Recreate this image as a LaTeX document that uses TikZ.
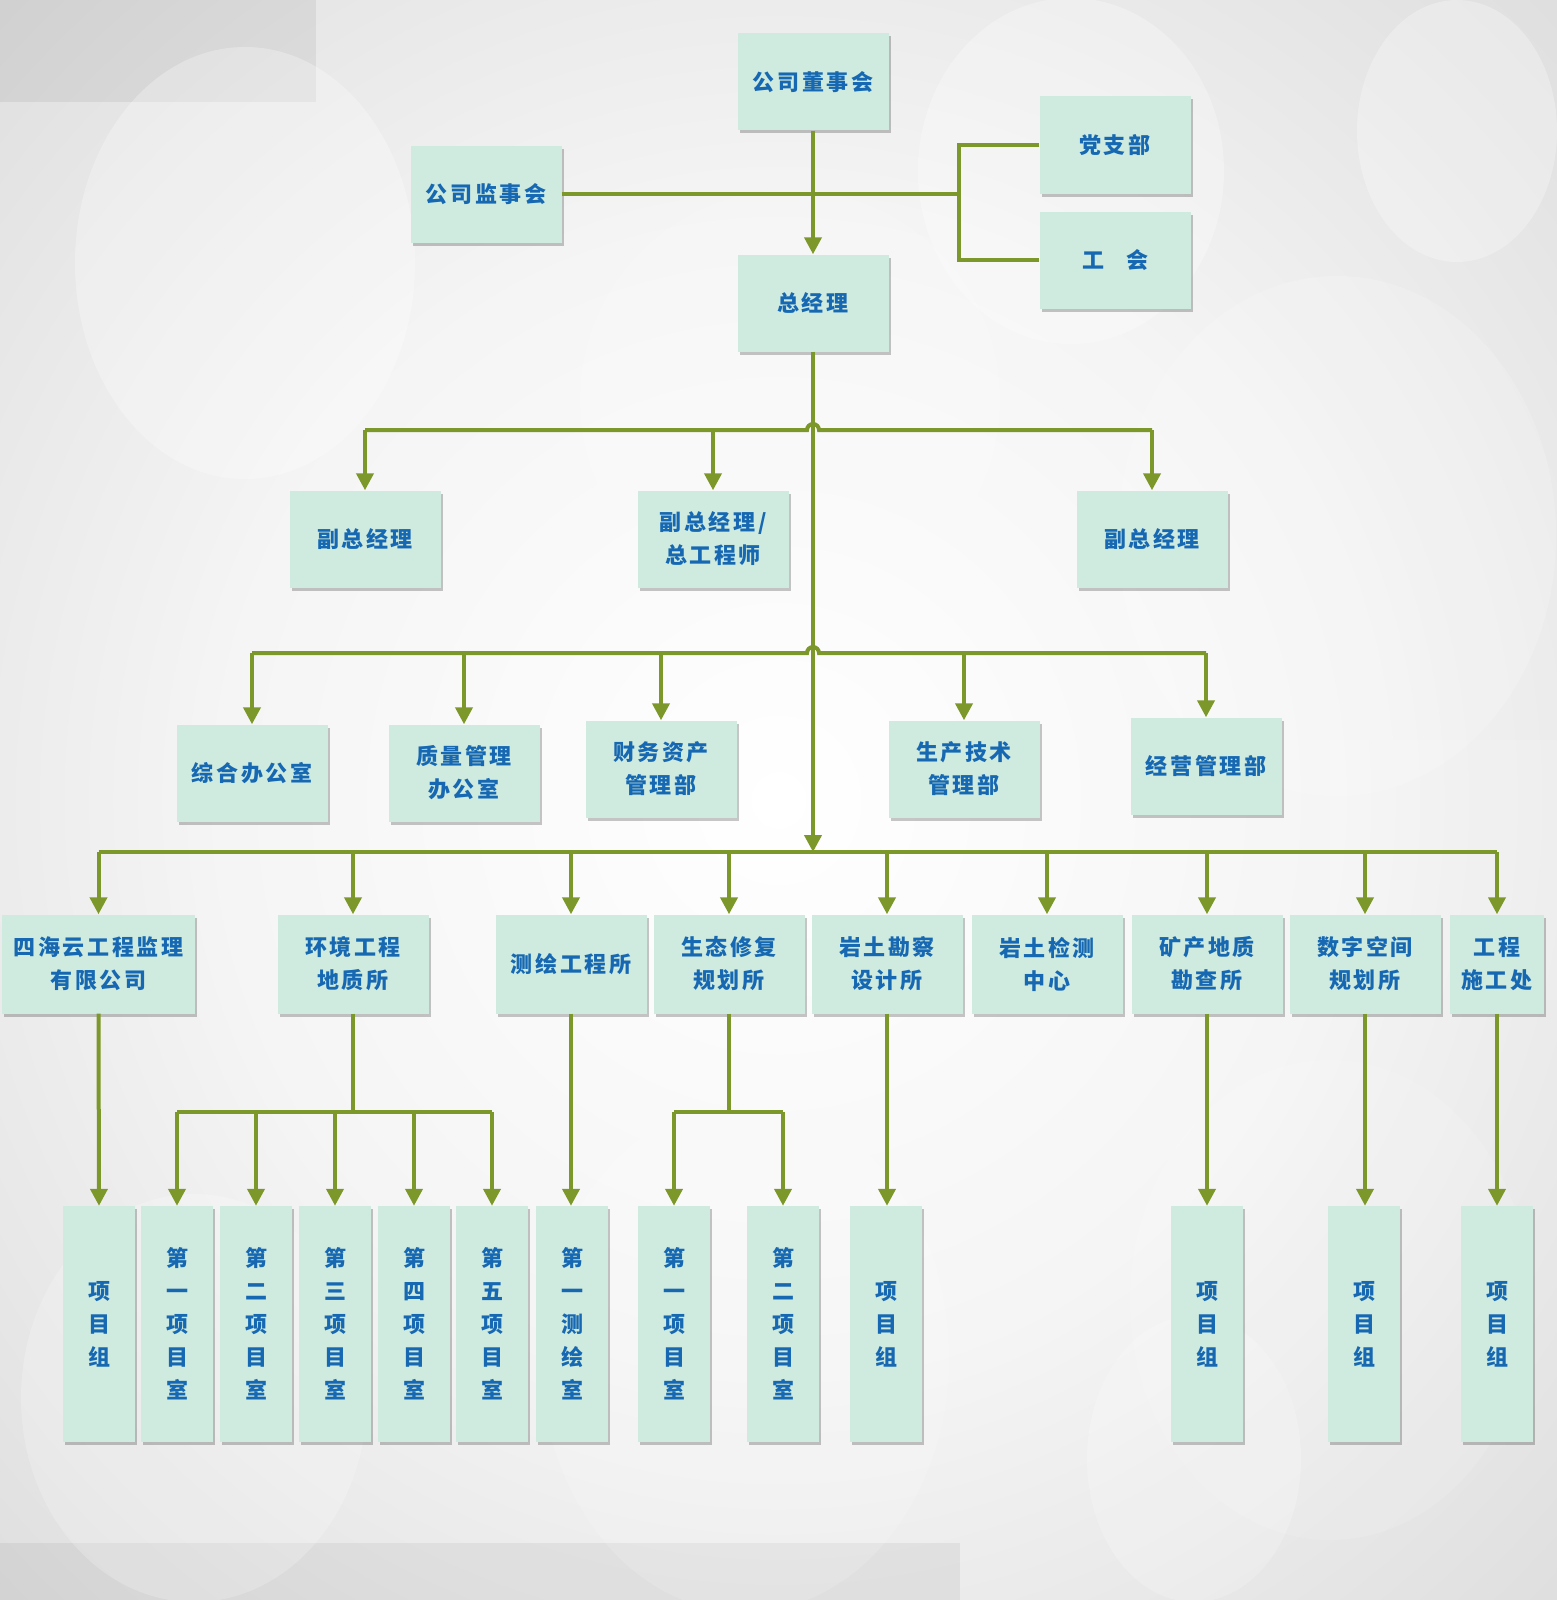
\documentclass[tikz,border=0pt]{standalone}
\usepackage{fontspec}
\newfontfamily\cjk[LetterSpace=12]{Noto Sans CJK SC}
\usetikzlibrary{arrows.meta,shadows,calc}
\definecolor{boxc}{RGB}{207,234,222}
\definecolor{txtc}{RGB}{22,104,178}
\definecolor{lnc}{RGB}{125,152,42}
\pgfdeclareradialshading{bgsh}{\pgfpoint{0bp}{0bp}}{color(0bp)=(white); color(18bp)=(white!96!black); color(50bp)=(white!80!black); color(72bp)=(white!76!black)}
\tikzset{
  box/.style={fill=boxc, draw=none, text=txtc, font=\cjk\bfseries\fontsize{22}{33}\selectfont,
    align=center, inner sep=0pt, minimum width=151pt, minimum height=97pt,
    drop shadow={shadow xshift=2pt, shadow yshift=-3pt, fill=black, opacity=.22}},
  tall/.style={box, minimum width=72pt, minimum height=236pt},
  ln/.style={draw=lnc, line width=4pt},
  arr/.style={ln, -{Triangle[width=17pt,length=17pt]}},
  deco/.style={fill=white, opacity=.28, draw=none}
}
\begin{document}
\begin{tikzpicture}[x=1pt,y=-1pt]
\useasboundingbox (0,0) rectangle (1557,1600);
% background
\shade[shading=bgsh] (0,0) rectangle (1557,1600);
\fill[black, opacity=.06] (0,0) rectangle (316,102);
\fill[black, opacity=.05] (0,1543) rectangle (960,1600);
\fill[white, opacity=.12] (1330,740) rectangle (1557,1000);
\fill[deco] (245,263) ellipse [x radius=170pt, y radius=216pt];
\fill[deco] (1071,171) ellipse [x radius=153pt, y radius=173pt];
\fill[deco] (1457,131) ellipse [x radius=100pt, y radius=131pt];
\fill[deco, opacity=.18] (1337,536) ellipse [x radius=219pt, y radius=260pt];
\fill[deco, opacity=.2] (194,1398) ellipse [x radius=173pt, y radius=204pt];
\fill[deco, opacity=.2] (1194,1459) ellipse [x radius=107pt, y radius=143pt];
\fill[deco, opacity=.15] (745,1357) ellipse [x radius=204pt, y radius=255pt];
\fill[deco, opacity=.15] (790,400) ellipse [x radius=210pt, y radius=210pt];
\fill[deco, opacity=.12] (1330,1300) ellipse [x radius=200pt, y radius=240pt];
% nodes
\node[box] (dsh) at (813,82) {公司董事会};
\node[box] (jsh) at (486,194) {公司监事会};
\node[box] (dzb) at (1115,145) {党支部};
\node[box] (gh) at (1115,260) {工\hspace{1em}会};
\node[box] (gm) at (813,303) {总经理};
\node[box] (f1) at (365,539) {副总经理};
\node[box] (f2) at (713,539) {副总经理/\\总工程师};
\node[box] (f3) at (1152,539) {副总经理};
\node[box] (d1) at (252,773) {综合办公室};
\node[box] (d2) at (464,773) {质量管理\\办公室};
\node[box] (d3) at (661,769) {财务资产\\管理部};
\node[box] (d4) at (964,769) {生产技术\\管理部};
\node[box] (d5) at (1206,766) {经营管理部};
\node[box, minimum width=193pt, minimum height=99pt] (s1) at (98.5,964) {四海云工程监理\\有限公司};
\node[box, minimum height=99pt] (s2) at (353,964) {环境工程\\地质所};
\node[box, minimum height=99pt] (s3) at (571,964) {测绘工程所};
\node[box, minimum height=99pt] (s4) at (729,964) {生态修复\\规划所};
\node[box, minimum height=99pt] (s5) at (887,964) {岩土勘察\\设计所};
\node[box, minimum height=99pt] (s6) at (1047,964) {岩土检测\\中心};
\node[box, minimum height=99pt] (s7) at (1207,964) {矿产地质\\勘查所};
\node[box, minimum height=99pt] (s8) at (1365,964) {数字空间\\规划所};
\node[box, minimum width=94pt, minimum height=99pt] (s9) at (1497,964) {工程\\施工处};
\node[tall] (p1) at (99,1324) {项\\目\\组};
\node[tall] (p2) at (177,1324) {第\\一\\项\\目\\室};
\node[tall] (p3) at (256,1324) {第\\二\\项\\目\\室};
\node[tall] (p4) at (335,1324) {第\\三\\项\\目\\室};
\node[tall] (p5) at (414,1324) {第\\四\\项\\目\\室};
\node[tall] (p6) at (492,1324) {第\\五\\项\\目\\室};
\node[tall] (p7) at (572,1324) {第\\一\\测\\绘\\室};
\node[tall] (p8) at (674,1324) {第\\一\\项\\目\\室};
\node[tall] (p9) at (783,1324) {第\\二\\项\\目\\室};
\node[tall] (p10) at (886,1324) {项\\目\\组};
\node[tall] (p11) at (1207,1324) {项\\目\\组};
\node[tall] (p12) at (1364,1324) {项\\目\\组};
\node[tall] (p13) at (1497,1324) {项\\目\\组};
% junctions
\coordinate (j1) at (959,194);
\coordinate (j2) at (813,430);
\coordinate (j3) at (813,653);
\coordinate (j4) at (813,852);
\coordinate (b1) at (0,1112);
% top connectors
\draw[arr] (dsh.south) -- (gm.north);
\draw[ln] (jsh.east) -- (j1);
\draw[ln] (dzb.west) -- (dzb.west -| j1) -- (gh.west -| j1) -- (gh.west);
% main spine
\draw[arr] (gm.south) -- (j4);
% row 2
\draw[ln] (f1.north |- j2) -- ([xshift=-6pt]j2) arc[start angle=180, end angle=0, radius=6pt] -- (f3.north |- j2);
\foreach \n in {f1,f2,f3} \draw[arr] (\n.north |- j2) -- (\n.north);
% row 3
\draw[ln] (d1.north |- j3) -- ([xshift=-6pt]j3) arc[start angle=180, end angle=0, radius=6pt] -- (d5.north |- j3);
\foreach \n in {d1,d2,d3,d4,d5} \draw[arr] (\n.north |- j3) -- (\n.north);
% row 4
\draw[ln] (s1.north |- j4) -- (s9.north |- j4);
\foreach \n in {s1,s2,s3,s4,s5,s6,s7,s8,s9} \draw[arr] (\n.north |- j4) -- (\n.north);
% row 5
\draw[arr] (s1.south) -- (p1.north);
\draw[ln] (s2.south) -- (s2.south |- b1);
\draw[ln] (p2.north |- b1) -- (p6.north |- b1);
\foreach \n in {p2,p3,p4,p5,p6} \draw[arr] (\n.north |- b1) -- (\n.north);
\draw[arr] (s3.south) -- (s3.south |- p7.north);
\draw[ln] (s4.south) -- (s4.south |- b1);
\draw[ln] (p8.north |- b1) -- (p9.north |- b1);
\foreach \n in {p8,p9} \draw[arr] (\n.north |- b1) -- (\n.north);
\draw[arr] (s5.south) -- (s5.south |- p10.north);
\draw[arr] (s7.south) -- (p11.north);
\draw[arr] (s8.south) -- (s8.south |- p12.north);
\draw[arr] (s9.south) -- (p13.north);
\end{tikzpicture}
\end{document}
